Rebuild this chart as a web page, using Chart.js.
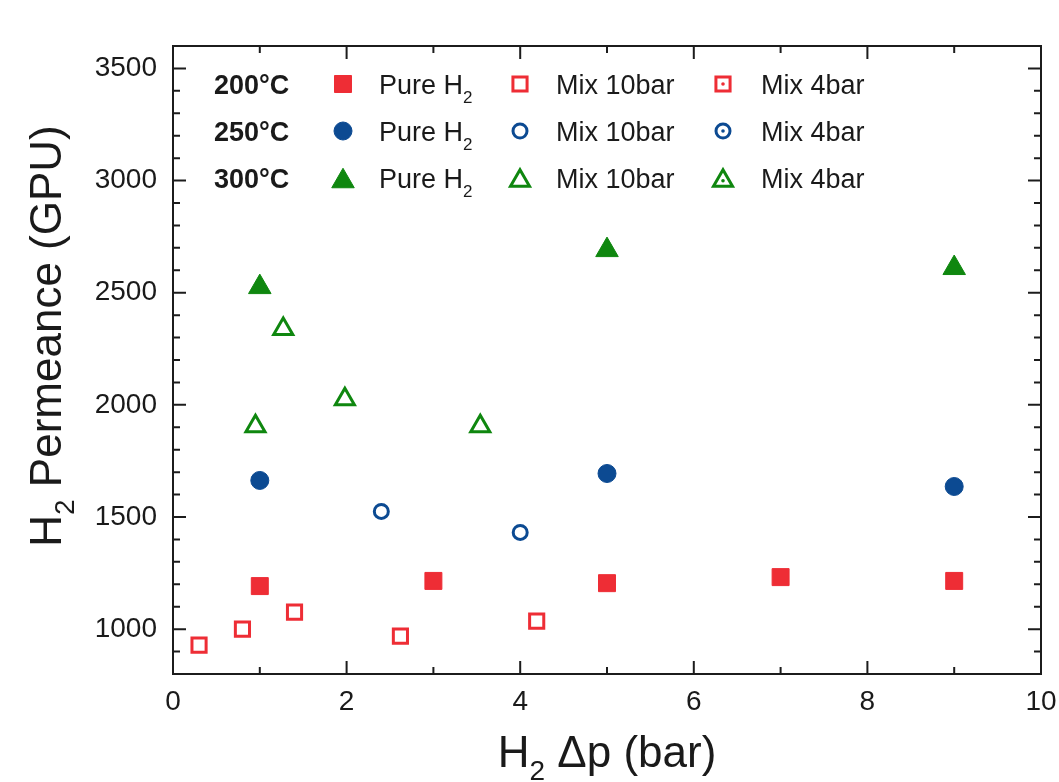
<!DOCTYPE html>
<html>
<head>
<meta charset="utf-8">
<script src="https://cdn.jsdelivr.net/npm/chart.js@4.4.1/dist/chart.umd.min.js"></script>
<style>
  html, body { margin: 0; padding: 0; background: #fff; }
  #wrap { width: 1059px; height: 782px; }
</style>
</head>
<body>
<div id="wrap"><canvas id="chartjs"></canvas></div>
<script>
// H2 permeance vs. H2 partial pressure difference, three temperatures
const xTicks = [0, 2, 4, 6, 8, 10];
const yTicks = [1000, 1500, 2000, 2500, 3000, 3500];

const pure200X = [1, 3, 5, 7, 9];
const pure200Y = [1192, 1215, 1205, 1232, 1215];
const mix10_200X = [2.62, 4.19];
const mix10_200Y = [969, 1036];
const mix4_200X = [0.3, 0.8, 1.4];
const mix4_200Y = [929, 1000, 1076];

const pure250X = [1, 5, 9];
const pure250Y = [1663, 1694, 1636];
const mix10_250X = [4.0];
const mix10_250Y = [1431];
const mix4_250X = [2.4];
const mix4_250Y = [1525];

const pure300X = [1, 5, 9];
const pure300Y = [2525, 2690, 2610];
const mix10_300X = [0.95, 1.98, 3.54];
const mix10_300Y = [1905, 2025, 1905];
const mix4_300X = [1.27];
const mix4_300Y = [2338];

const tempLabels = ["200°C", "250°C", "300°C"];
const seriesLabels = ["Pure H", "Mix 10bar", "Mix 4bar"];

const RED = "#ee2d35";
const BLUE = "#0c4a92";
const GREEN = "#0f870f";
const FONT = "'Liberation Sans', Arial, sans-serif";

const pts = (xs, ys) => xs.map((x, i) => ({ x, y: ys[i] }));

const filled = (color, style, r, xs, ys, row) => ({
  data: pts(xs, ys),
  pointStyle: style,
  pointRadius: r,
  pointBackgroundColor: color,
  pointBorderColor: color,
  pointBorderWidth: 1,
  legendRow: row,
  legendCol: 0
});
const open = (color, style, r, xs, ys, row, col) => ({
  data: pts(xs, ys),
  pointStyle: style,
  pointRadius: r,
  pointBackgroundColor: "#fff",
  pointBorderColor: color,
  pointBorderWidth: 3,
  legendRow: row,
  legendCol: col
});
const dot = (color, xs, ys) => ({
  data: pts(xs, ys),
  pointStyle: "circle",
  pointRadius: 1.8,
  pointBackgroundColor: color,
  pointBorderWidth: 0,
  isDot: true
});

const datasets = [
  filled(RED, "rect", 12, pure200X, pure200Y, 0),
  open(RED, "rect", 10, mix10_200X, mix10_200Y, 0, 1),
  open(RED, "rect", 10, mix4_200X, mix4_200Y, 0, 2),
  dot("#6b1b1b", mix4_200X, mix4_200Y),
  filled(BLUE, "circle", 9, pure250X, pure250Y, 1),
  open(BLUE, "circle", 7, mix10_250X, mix10_250Y, 1, 1),
  open(BLUE, "circle", 7, mix4_250X, mix4_250Y, 1, 2),
  dot(BLUE, mix4_250X, mix4_250Y),
  filled(GREEN, "triangle", 13, pure300X, pure300Y, 2),
  open(GREEN, "triangle", 11, mix10_300X, mix10_300Y, 2, 1),
  open(GREEN, "triangle", 11, mix4_300X, mix4_300Y, 2, 2),
  dot(GREEN, mix4_300X, mix4_300Y)
];

// text with a subscript part
const drawRich = (ctx, parts, x, y) => {
  let cx = x;
  parts.forEach((p) => {
    ctx.font = p.font;
    ctx.fillText(p.t, cx, y + (p.dy || 0));
    cx += ctx.measureText(p.t).width;
  });
  return cx - x;
};
const richWidth = (ctx, parts) => parts.reduce((w, p) => {
  ctx.font = p.font;
  return w + ctx.measureText(p.t).width;
}, 0);

const frameTicks = {
  id: "frameTicks",
  beforeDatasetsDraw(chart) {
    const { ctx, chartArea: a, scales } = chart;
    ctx.save();
    ctx.strokeStyle = "#1c1c1c";
    ctx.lineWidth = 2;
    ctx.strokeRect(a.left, a.top, a.right - a.left, a.bottom - a.top);
    ctx.beginPath();
    for (let v = 0; v <= 10; v += 1) {
      const px = scales.x.getPixelForValue(v);
      const len = xTicks.includes(v) ? 13 : 7;
      ctx.moveTo(px, a.bottom); ctx.lineTo(px, a.bottom - len);
      ctx.moveTo(px, a.top); ctx.lineTo(px, a.top + len);
    }
    for (let v = 900; v < 3600; v += 100) {
      const py = scales.y.getPixelForValue(v);
      const len = yTicks.includes(v) ? 13 : 7;
      ctx.moveTo(a.left, py); ctx.lineTo(a.left + len, py);
      ctx.moveTo(a.right, py); ctx.lineTo(a.right - len, py);
    }
    ctx.stroke();
    ctx.restore();
  },
  afterDraw(chart) {
    const { ctx, chartArea: a } = chart;
    ctx.save();
    ctx.fillStyle = "#1a1a1a";
    ctx.textBaseline = "alphabetic";
    ctx.textAlign = "left";
    const big = "44px " + FONT;
    const sub = "28px " + FONT;
    // x title
    const xt = [{ t: "H", font: big }, { t: "2", font: sub, dy: 13 }, { t: " \u0394p (bar)", font: big }];
    const xw = richWidth(ctx, xt);
    drawRich(ctx, xt, (a.left + a.right) / 2 - xw / 2, 767);
    // y title
    const yt = [{ t: "H", font: big }, { t: "2", font: sub, dy: 13 }, { t: " Permeance (GPU)", font: big }];
    const yw = richWidth(ctx, yt);
    ctx.translate(61, 336);
    ctx.rotate(-Math.PI / 2);
    drawRich(ctx, yt, -yw / 2, 0);
    ctx.restore();

    // legend grid
    const rowY = [84, 131, 178];
    const markX = [343, 520, 723];
    const textX = [379, 556, 761];
    ctx.save();
    ctx.fillStyle = "#1a1a1a";
    tempLabels.forEach((t, r) => {
      ctx.font = "bold 27px " + FONT;
      ctx.fillText(t, 214, rowY[r] + 10);
    });
    chart.data.datasets.forEach((ds) => {
      if (ds.isDot) return;
      const r = ds.legendRow, c = ds.legendCol;
      const isTri = ds.pointStyle === "triangle";
      const my = rowY[r] + (isTri ? ds.pointRadius / 4 : 0);
      ctx.save();
      ctx.fillStyle = ds.pointBackgroundColor;
      ctx.strokeStyle = ds.pointBorderColor;
      ctx.lineWidth = ds.pointBorderWidth;
      Chart.helpers.drawPoint(ctx, { pointStyle: ds.pointStyle, radius: ds.pointRadius, borderWidth: ds.pointBorderWidth, rotation: 0 }, markX[c], my);
      ctx.restore();
      if (c === 2) {
        ctx.save();
        ctx.fillStyle = ds.pointBorderColor;
        ctx.beginPath();
        ctx.arc(markX[c], my, 1.8, 0, Math.PI * 2);
        ctx.fill();
        ctx.restore();
      }
      ctx.fillStyle = "#1a1a1a";
      const parts = c === 0
        ? [{ t: seriesLabels[0], font: "27px " + FONT }, { t: "2", font: "17px " + FONT, dy: 9 }]
        : [{ t: seriesLabels[c], font: "27px " + FONT }];
      drawRich(ctx, parts, textX[c], rowY[r] + 10);
    });
    ctx.restore();
  }
};

const chartElem = document.getElementById("chartjs");
const chart = new Chart(chartElem, {
  type: "scatter",
  data: { datasets },
  plugins: [frameTicks],
  options: {
    responsive: true,
    maintainAspectRatio: false,
    animation: false,
    layout: { padding: { left: 95, right: 18, top: 46, bottom: 0 } },
    plugins: { legend: { display: false }, tooltip: { enabled: false } },
    scales: {
      x: {
        type: "linear",
        min: 0,
        max: 10,
        grid: { display: false, drawTicks: false },
        border: { display: false },
        ticks: { font: { size: 28, family: FONT }, color: "#1a1a1a", padding: 11, callback: (v) => String(v) },
        afterBuildTicks: (axis) => { axis.ticks = xTicks.map((v) => ({ value: v })); },
        afterFit: (axis) => { axis.height = 108; axis.paddingLeft = 0; axis.paddingRight = 0; }
      },
      y: {
        type: "linear",
        min: 800,
        max: 3600,
        grid: { display: false, drawTicks: false },
        border: { display: false },
        ticks: { font: { size: 28, family: FONT }, color: "#1a1a1a", padding: 16, callback: (v) => String(v) },
        afterBuildTicks: (axis) => { axis.ticks = yTicks.map((v) => ({ value: v })); },
        afterFit: (axis) => { axis.width = 78; axis.paddingTop = 0; axis.paddingBottom = 0; }
      }
    }
  }
});
</script>
</body>
</html>
